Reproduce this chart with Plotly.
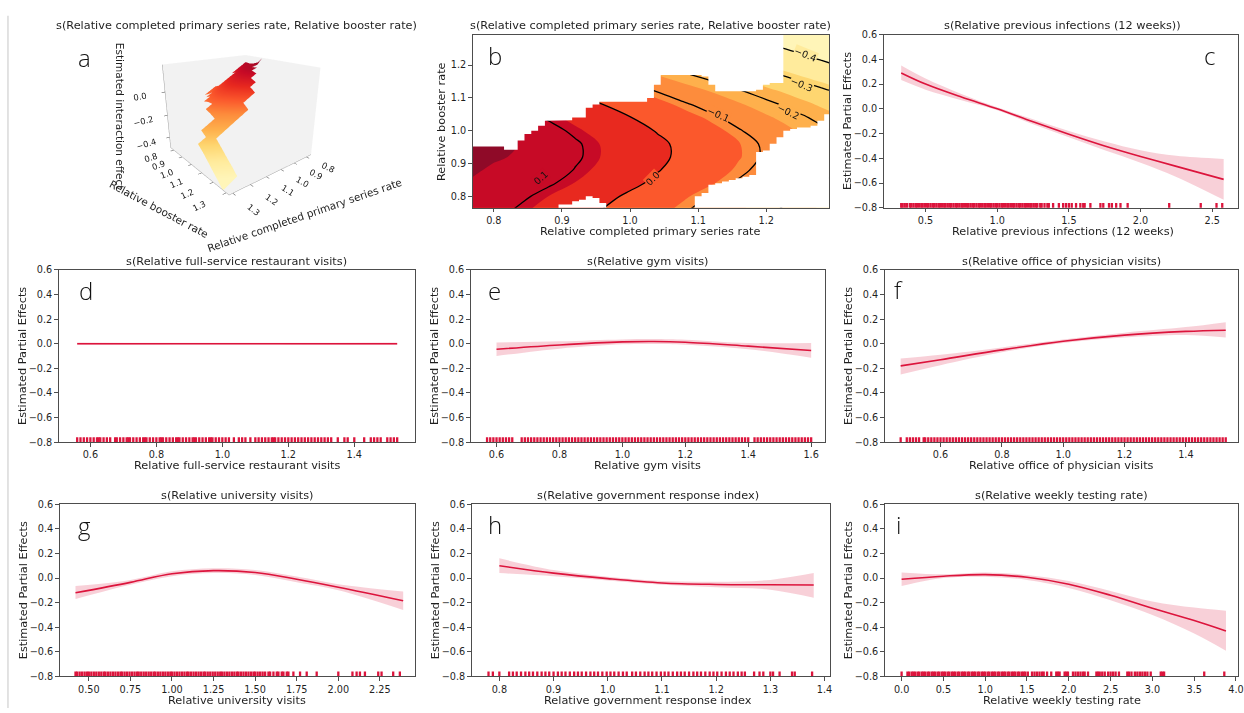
import numpy as np
import plotly.graph_objects as go

W, H = 1244, 713
FONT = "DejaVu Sans"
RED = "#dc143c"
BAND = "rgba(220,20,60,0.2)"
TXT = "#1f1f1f"
AX = "#4d4d4d"

def PX(x):
    return x / W

def PY(y):
    return 1 - y / H

# ---------------- panel a / b : tensor smooth (estimated) ----------------
grid_primary = [0.76, 0.80, 0.84, 0.88, 0.92, 0.96, 1.00, 1.04, 1.08, 1.12, 1.16, 1.20, 1.24, 1.28, 1.32]
grid_booster = [0.76, 0.80, 0.84, 0.88, 0.92, 0.96, 1.00, 1.04, 1.08, 1.12, 1.16, 1.20, 1.24, 1.28, 1.32]
interaction_z = [
    [0.153, 0.122, 0.091, 0.060, 0.030, -0.001, -0.032, -0.063, -0.094, -0.124, -0.155, -0.186, -0.217, -0.248, -0.278],
    [0.148, 0.142, 0.111, 0.080, 0.050, 0.019, -0.012, -0.043, -0.074, -0.104, -0.135, -0.166, -0.197, -0.228, -0.258],
    [0.157, 0.140, 0.139, 0.108, 0.078, 0.047, 0.016, -0.015, -0.046, -0.076, -0.107, -0.138, -0.169, -0.200, -0.230],
    [0.175, 0.150, 0.145, 0.127, 0.097, 0.066, 0.035, 0.004, -0.027, -0.057, -0.088, -0.119, -0.150, -0.181, -0.211],
    [0.231, 0.168, 0.152, 0.138, 0.108, 0.077, 0.046, 0.015, -0.016, -0.046, -0.077, -0.108, -0.139, -0.170, -0.200],
    [0.230, 0.199, 0.155, 0.137, 0.107, 0.076, 0.045, 0.014, -0.017, -0.047, -0.078, -0.109, -0.140, -0.171, -0.201],
    [0.212, 0.181, 0.150, 0.119, 0.089, 0.058, 0.027, -0.004, -0.035, -0.065, -0.096, -0.127, -0.158, -0.189, -0.219],
    [0.187, 0.156, 0.125, 0.094, 0.064, 0.033, 0.002, -0.029, -0.060, -0.090, -0.121, -0.152, -0.183, -0.214, -0.244],
    [0.154, 0.123, 0.092, 0.061, 0.031, 0.000, -0.031, -0.062, -0.093, -0.123, -0.154, -0.185, -0.216, -0.247, -0.277],
    [0.114, 0.083, 0.052, 0.021, -0.009, -0.040, -0.071, -0.102, -0.133, -0.163, -0.194, -0.225, -0.256, -0.287, -0.317],
    [0.067, 0.036, 0.005, -0.026, -0.056, -0.087, -0.118, -0.149, -0.180, -0.210, -0.241, -0.272, -0.303, -0.334, -0.364],
    [0.018, -0.013, -0.044, -0.075, -0.105, -0.136, -0.167, -0.198, -0.229, -0.259, -0.290, -0.321, -0.352, -0.383, -0.413],
    [-0.028, -0.059, -0.090, -0.121, -0.151, -0.182, -0.213, -0.244, -0.275, -0.305, -0.336, -0.367, -0.398, -0.429, -0.459],
    [-0.080, -0.111, -0.142, -0.173, -0.203, -0.234, -0.265, -0.296, -0.327, -0.357, -0.388, -0.419, -0.450, -0.481, -0.511],
    [-0.142, -0.173, -0.204, -0.235, -0.265, -0.296, -0.327, -0.358, -0.389, -0.419, -0.450, -0.481, -0.512, -0.543, -0.573],
]
# observed-data region: per primary-rate column (0.77 .. 1.29 step 0.01), booster range
mask_lo = [0.76, 0.76, 0.76, 0.76, 0.76, 0.76, 0.76, 0.76, 0.76, 0.76, 0.76, 0.76, 0.76,
           0.775, 0.775, 0.785, 0.79, 0.80, 0.795, 0.78, 0.76, 0.76, 0.76, 0.76, 0.76, 0.76,
           0.76, 0.76, 0.76, 0.76, 0.76, 0.76, 0.76, 0.80, 0.81, 0.835, 0.84, 0.845, 0.85,
           0.855, 0.86, 0.865, 0.935, 0.94, 0.96, 0.98, 1.00, 1.005, 1.01, 1.01, 1.015, 1.03, 1.05]
mask_hi = [0.952, 0.952, 0.952, 0.952, 0.952, 0.942, 0.942, 0.97, 0.99, 1.00, 1.015, 1.03, 1.032,
           1.032, 1.032, 1.04, 1.04, 1.07, 1.08, 1.088, 1.088, 1.088, 1.088, 1.088, 1.088, 1.088,
           1.10, 1.14, 1.17, 1.17, 1.17, 1.17, 1.17, 1.17, 1.165, 1.14, 1.12, 1.12, 1.12,
           1.12, 1.12, 1.12, 1.125, 1.14, 1.145, 1.145, 1.30, 1.30, 1.30, 1.30, 1.30, 1.30, 1.30]
mask_cols = np.round(0.77 + 0.01 * np.arange(len(mask_lo)), 2)

fill_levels_colors = ['#fff5b8', '#ffeb9c', '#fed670', '#feb04c', '#fd8c3c',
                      '#fb582c', '#e8291f', '#c70a26', '#8f0a28']
# contour labels: text, primary, booster, angle, background band colour
contour_labels = [('0.1', 0.869, 0.858, -42, '#c70a26'),
                  ('0.0', 1.033, 0.855, -45, '#fb582c'),
                  ('\u22120.1', 1.130, 1.050, 24, '#fd8c3c'),
                  ('\u22120.2', 1.232, 1.060, 26, '#feb04c'),
                  ('\u22120.3', 1.252, 1.140, 22, '#fed670'),
                  ('\u22120.4', 1.258, 1.232, 22, '#ffeb9c')]

# ---------------- smooth terms ----------------
c_x = [0.33, 0.5, 0.75, 1.0, 1.25, 1.5, 1.75, 2.0, 2.25, 2.58]
c_y = [0.29, 0.20, 0.095, 0.0, -0.105, -0.205, -0.30, -0.385, -0.465, -0.57]
c_up = [0.35, 0.245, 0.12, 0.012, -0.085, -0.18, -0.265, -0.335, -0.38, -0.405]
c_lo = [0.232, 0.155, 0.07, -0.012, -0.125, -0.23, -0.335, -0.435, -0.55, -0.735]
c_rug = [0.33, 0.34, 0.355, 0.37, 0.39, 0.40, 0.415, 0.43, 0.44, 0.455, 0.47, 0.48, 0.495, 0.51,
         0.52, 0.535, 0.55, 0.56, 0.575, 0.59, 0.60, 0.615, 0.63, 0.64, 0.655, 0.67, 0.68, 0.695,
         0.71, 0.72, 0.735, 0.75, 0.76, 0.775, 0.79, 0.80, 0.815, 0.83, 0.84, 0.855, 0.87, 0.88,
         0.895, 0.91, 0.92, 0.935, 0.95, 0.96, 0.975, 0.99, 1.00, 1.015, 1.03, 1.04, 1.055, 1.07,
         1.08, 1.095, 1.11, 1.12, 1.135, 1.15, 1.16, 1.175, 1.19, 1.20, 1.215, 1.23, 1.24, 1.255,
         1.27, 1.28, 1.30, 1.31, 1.33, 1.35, 1.36, 1.39, 1.43, 1.46, 1.48, 1.50, 1.52, 1.55, 1.58,
         1.60, 1.61, 1.65, 1.72, 1.74, 1.78, 1.80, 1.83, 1.86, 1.91, 2.20, 2.42, 2.53, 2.57]

d_x = [0.56, 0.8, 1.0, 1.2, 1.53]
d_y = [0.0, 0.0, 0.0, 0.0, 0.0]
d_up = [0.01, 0.008, 0.007, 0.008, 0.01]
d_lo = [-0.01, -0.008, -0.007, -0.008, -0.01]
d_rug = [0.56, 0.57, 0.58, 0.59, 0.60, 0.61, 0.62, 0.625, 0.63, 0.64, 0.65, 0.66, 0.675, 0.68,
         0.69, 0.70, 0.71, 0.715, 0.72, 0.73, 0.74, 0.75, 0.76, 0.765, 0.77, 0.78, 0.79, 0.80,
         0.81, 0.815, 0.82, 0.83, 0.84, 0.85, 0.86, 0.865, 0.87, 0.88, 0.89, 0.90, 0.91, 0.915,
         0.92, 0.93, 0.94, 0.95, 0.96, 0.965, 0.97, 0.98, 0.99, 1.00, 1.01, 1.02, 1.035, 1.05,
         1.06, 1.07, 1.085, 1.10, 1.11, 1.12, 1.13, 1.14, 1.15, 1.155, 1.16, 1.17, 1.18, 1.19,
         1.20, 1.21, 1.22, 1.23, 1.24, 1.25, 1.26, 1.27, 1.28, 1.29, 1.30, 1.31, 1.32, 1.33,
         1.35, 1.37, 1.38, 1.40, 1.43, 1.45, 1.46, 1.47, 1.48, 1.50, 1.51, 1.52, 1.53]

e_x = [0.6, 0.8, 1.0, 1.1, 1.2, 1.4, 1.6]
e_y = [-0.045, -0.01, 0.015, 0.018, 0.012, -0.02, -0.055]
e_up = [0.01, 0.02, 0.035, 0.038, 0.032, 0.005, 0.005]
e_lo = [-0.10, -0.04, -0.005, -0.002, -0.008, -0.045, -0.115]
e_rug = [0.57, 0.58, 0.59, 0.60, 0.61, 0.62, 0.63, 0.64, 0.65, 0.68, 0.69, 0.70, 0.71, 0.72,
         0.73, 0.74, 0.75, 0.76, 0.77, 0.78, 0.79, 0.80, 0.81, 0.82, 0.83, 0.84, 0.85, 0.86,
         0.87, 0.88, 0.89, 0.90, 0.91, 0.92, 0.93, 0.94, 0.95, 0.96, 0.97, 0.98, 0.99, 1.00,
         1.01, 1.02, 1.03, 1.04, 1.05, 1.06, 1.07, 1.08, 1.09, 1.10, 1.11, 1.12, 1.13, 1.14,
         1.15, 1.16, 1.17, 1.18, 1.19, 1.20, 1.21, 1.22, 1.23, 1.24, 1.25, 1.26, 1.27, 1.28,
         1.29, 1.30, 1.31, 1.32, 1.33, 1.34, 1.35, 1.36, 1.37, 1.38, 1.39, 1.40, 1.42, 1.43,
         1.44, 1.45, 1.46, 1.47, 1.48, 1.49, 1.50, 1.51, 1.52, 1.53, 1.54, 1.55, 1.56, 1.57,
         1.58, 1.59, 1.60]

f_x = [0.47, 0.6, 0.8, 1.0, 1.2, 1.4, 1.53]
f_y = [-0.18, -0.13, -0.05, 0.02, 0.07, 0.10, 0.11]
f_up = [-0.12, -0.09, -0.03, 0.035, 0.09, 0.135, 0.175]
f_lo = [-0.25, -0.175, -0.07, 0.005, 0.05, 0.07, 0.05]
f_rug = [0.47, 0.49, 0.50, 0.51, 0.52, 0.53, 0.545, 0.55, 0.56, 0.57, 0.58, 0.59, 0.60, 0.61,
         0.62, 0.63, 0.64, 0.65, 0.66, 0.67, 0.68, 0.69, 0.70, 0.71, 0.72, 0.73, 0.74, 0.75,
         0.76, 0.77, 0.78, 0.79, 0.80, 0.81, 0.82, 0.83, 0.84, 0.85, 0.86, 0.87, 0.88, 0.89,
         0.90, 0.91, 0.92, 0.93, 0.94, 0.95, 0.96, 0.97, 0.98, 0.99, 1.00, 1.01, 1.02, 1.03,
         1.04, 1.05, 1.06, 1.07, 1.08, 1.09, 1.10, 1.11, 1.12, 1.13, 1.14, 1.15, 1.16, 1.17,
         1.18, 1.19, 1.20, 1.21, 1.22, 1.23, 1.24, 1.25, 1.26, 1.27, 1.28, 1.29, 1.30, 1.31,
         1.32, 1.33, 1.34, 1.35, 1.36, 1.37, 1.38, 1.39, 1.40, 1.41, 1.42, 1.43, 1.44, 1.45,
         1.46, 1.47, 1.48, 1.49, 1.50, 1.51, 1.52, 1.53]

g_x = [0.42, 0.75, 1.0, 1.25, 1.5, 1.75, 2.0, 2.39]
g_y = [-0.12, -0.035, 0.035, 0.06, 0.045, -0.01, -0.075, -0.185]
g_up = [-0.065, -0.015, 0.055, 0.08, 0.065, 0.012, -0.05, -0.11]
g_lo = [-0.17, -0.055, 0.015, 0.04, 0.025, -0.035, -0.10, -0.26]
g_rug = [0.42, 0.43, 0.445, 0.46, 0.475, 0.49, 0.50, 0.515, 0.53, 0.545, 0.56, 0.575, 0.59, 0.60,
         0.615, 0.63, 0.645, 0.66, 0.675, 0.69, 0.70, 0.715, 0.73, 0.745, 0.76, 0.775, 0.79, 0.80,
         0.815, 0.83, 0.845, 0.86, 0.875, 0.89, 0.90, 0.915, 0.93, 0.945, 0.96, 0.975, 0.99, 1.00,
         1.015, 1.03, 1.045, 1.06, 1.075, 1.09, 1.10, 1.115, 1.13, 1.145, 1.16, 1.175, 1.19, 1.20,
         1.215, 1.23, 1.245, 1.26, 1.275, 1.29, 1.30, 1.315, 1.33, 1.345, 1.36, 1.375, 1.39, 1.40,
         1.415, 1.43, 1.445, 1.46, 1.475, 1.49, 1.50, 1.515, 1.53, 1.545, 1.56, 1.58, 1.59, 1.61,
         1.63, 1.64, 1.66, 1.67, 1.69, 1.70, 1.73, 1.77, 1.81, 1.87, 2.00, 2.085, 2.11, 2.13,
         2.16, 2.24, 2.26, 2.33, 2.37]

h_x = [0.8, 0.9, 1.0, 1.1, 1.2, 1.3, 1.38]
h_y = [0.10, 0.04, -0.005, -0.04, -0.052, -0.055, -0.057]
h_up = [0.16, 0.065, 0.01, -0.025, -0.03, -0.015, 0.04]
h_lo = [0.04, 0.015, -0.02, -0.055, -0.075, -0.095, -0.16]
h_rug = [0.78, 0.788, 0.80, 0.818, 0.825, 0.832, 0.84, 0.848, 0.855, 0.862, 0.87, 0.878, 0.885,
         0.892, 0.90, 0.908, 0.915, 0.922, 0.93, 0.938, 0.945, 0.952, 0.96, 0.968, 0.975, 0.982,
         0.99, 0.998, 1.005, 1.012, 1.02, 1.028, 1.035, 1.045, 1.052, 1.06, 1.068, 1.075, 1.082,
         1.09, 1.098, 1.105, 1.112, 1.12, 1.128, 1.135, 1.142, 1.15, 1.158, 1.165, 1.172, 1.18,
         1.188, 1.195, 1.202, 1.21, 1.218, 1.225, 1.232, 1.24, 1.247, 1.253, 1.27, 1.28, 1.287,
         1.30, 1.305, 1.317, 1.34, 1.345, 1.377]

i_x = [0.0, 0.5, 1.0, 1.5, 2.0, 2.5, 3.0, 3.5, 3.88]
i_y = [-0.01, 0.015, 0.028, 0.006, -0.05, -0.14, -0.245, -0.345, -0.43]
i_up = [0.045, 0.03, 0.045, 0.025, -0.025, -0.105, -0.19, -0.24, -0.265]
i_lo = [-0.065, 0.0, 0.01, -0.015, -0.08, -0.18, -0.30, -0.45, -0.59]
i_rug = [0.0, 0.07, 0.09, 0.12, 0.14, 0.16, 0.19, 0.21, 0.24, 0.26, 0.28, 0.31, 0.33, 0.36, 0.38,
         0.40, 0.43, 0.45, 0.48, 0.50, 0.52, 0.55, 0.57, 0.60, 0.62, 0.64, 0.67, 0.69, 0.72, 0.74,
         0.76, 0.79, 0.81, 0.84, 0.86, 0.88, 0.91, 0.93, 0.96, 0.98, 1.00, 1.03, 1.05, 1.08, 1.10,
         1.12, 1.15, 1.17, 1.20, 1.22, 1.24, 1.27, 1.29, 1.32, 1.34, 1.36, 1.39, 1.41, 1.44, 1.46,
         1.48, 1.51, 1.56, 1.59, 1.62, 1.65, 1.68, 1.70, 1.74, 1.79, 1.85, 1.87, 1.89, 1.95, 1.97,
         1.99, 2.05, 2.08, 2.11, 2.14, 2.17, 2.19, 2.23, 2.33, 2.35, 2.37, 2.40, 2.43, 2.47, 2.50,
         2.53, 2.56, 2.60, 2.70, 2.72, 2.75, 2.79, 2.82, 2.85, 2.88, 2.91, 2.94, 2.98, 3.10, 3.12,
         3.14, 3.62, 3.86]

panels = [
    dict(key='c', ax='2', xpx=(888, 1244), ypx=(29, 205), xr=[0.208, 2.68],
         xt=[0.5, 1.0, 1.5, 2.0, 2.5], fmt='.1f', data=(c_x, c_y, c_up, c_lo, c_rug),
         title='s(Relative previous infections (12 weeks))',
         xlabel='Relative previous infections (12 weeks)', tx=1068, lx=1215, ly=50),
    dict(key='d', ax='3', xpx=(59, 417), ypx=(268, 443), xr=[0.504, 1.584],
         xt=[0.6, 0.8, 1.0, 1.2, 1.4], fmt='.1f', data=(d_x, d_y, d_up, d_lo, d_rug),
         title='s(Relative full-service restaurant visits)',
         xlabel='Relative full-service restaurant visits', tx=238, lx=86, ly=289),
    dict(key='e', ax='4', xpx=(473, 829), ypx=(268, 443), xr=[0.518, 1.644],
         xt=[0.6, 0.8, 1.0, 1.2, 1.4, 1.6], fmt='.1f', data=(e_x, e_y, e_up, e_lo, e_rug),
         title='s(Relative gym visits)', xlabel='Relative gym visits', tx=651, lx=497, ly=289),
    dict(key='f', ax='5', xpx=(889, 1244), ypx=(268, 443), xr=[0.418, 1.57],
         xt=[0.6, 0.8, 1.0, 1.2, 1.4], fmt='.1f', data=(f_x, f_y, f_up, f_lo, f_rug),
         title='s(Relative office of physician visits)',
         xlabel='Relative office of physician visits', tx=1067, lx=903, ly=288),
    dict(key='g', ax='6', xpx=(60, 417), ypx=(506, 681), xr=[0.325, 2.461],
         xt=[0.5, 0.75, 1.0, 1.25, 1.5, 1.75, 2.0, 2.25], fmt='.2f', data=(g_x, g_y, g_up, g_lo, g_rug),
         title='s(Relative university visits)', xlabel='Relative university visits',
         tx=238, lx=85, ly=528),
    dict(key='h', ax='7', xpx=(474, 834), ypx=(506, 681), xr=[0.749, 1.41],
         xt=[0.8, 0.9, 1.0, 1.1, 1.2, 1.3, 1.4], fmt='.1f', data=(h_x, h_y, h_up, h_lo, h_rug),
         title='s(Relative government response index)',
         xlabel='Relative government response index', tx=651, lx=497, ly=527),
    dict(key='i', ax='8', xpx=(889, 1244), ypx=(506, 681), xr=[-0.202, 4.024],
         xt=[0.0, 0.5, 1.0, 1.5, 2.0, 2.5, 3.0, 3.5, 4.0], fmt='.1f', data=(i_x, i_y, i_up, i_lo, i_rug),
         title='s(Relative weekly testing rate)', xlabel='Relative weekly testing rate',
         tx=1067, lx=903, ly=527),
]

fig = go.Figure()
layout_axes = {}
annotations = []

axis_common = dict(showline=True, mirror=True, linecolor=AX, linewidth=1, ticks='outside',
                   ticklen=3.5, tickwidth=1, tickcolor=AX, showgrid=False, zeroline=False,
                   ticklabeloverflow='allow',
                   tickfont=dict(family=FONT, size=9.7, color=TXT))

def ann(text, x, y, size=11.3, angle=0, family=FONT, color=TXT, weight=None):
    f = dict(family=family, size=size, color=color)
    if weight:
        f['weight'] = weight
    annotations.append(dict(text=text, x=PX(x), y=PY(y), xref='paper', yref='paper',
                            showarrow=False, textangle=angle, font=f,
                            xanchor='center', yanchor='middle'))

for p in panels:
    xs, ys, up, lo, rug = p['data']
    xa, ya = 'x' + p['ax'], 'y' + p['ax']
    fig.add_trace(go.Scatter(x=xs, y=lo, mode='lines', line=dict(width=0, shape='spline'),
                             xaxis=xa, yaxis=ya, showlegend=False, hoverinfo='skip'))
    fig.add_trace(go.Scatter(x=xs, y=up, mode='lines', line=dict(width=0, shape='spline'),
                             fill='tonexty', fillcolor=BAND,
                             xaxis=xa, yaxis=ya, showlegend=False, hoverinfo='skip'))
    fig.add_trace(go.Scatter(x=xs, y=ys, mode='lines', line=dict(color=RED, width=1.6, shape='spline'),
                             xaxis=xa, yaxis=ya, showlegend=False))
    fig.add_trace(go.Scatter(x=rug, y=[-0.786] * len(rug), mode='markers',
                             marker=dict(symbol='line-ns', size=4.5,
                                         line=dict(color=RED, width=2.3)),
                             xaxis=xa, yaxis=ya, showlegend=False))
    x0, x1 = p['xpx']
    yt, yb = p['ypx']
    layout_axes['xaxis' + p['ax']] = dict(axis_common, domain=[PX(x0), PX(x1)], range=p['xr'],
                                         tickvals=p['xt'], tickformat=p['fmt'], anchor=ya)
    layout_axes['yaxis' + p['ax']] = dict(axis_common, domain=[PY(yb), PY(yt)], range=[-0.8, 0.6],
                                         tickvals=[-0.8, -0.6, -0.4, -0.2, 0.0, 0.2, 0.4, 0.6],
                                         tickformat='.1f', anchor=xa)
    ann(p['title'], p['tx'], yt - 9)
    ann(p['xlabel'], p['tx'], yb + 24)
    ann('Estimated Partial Effects', x0 - 37, (yt + yb) / 2, angle=-90)
    ann(p['key'], p['lx'], p['ly'], size=24, family='Open Sans', color='#111', weight=300)

# ---- panel b: contour ----
fill_scale = [[k / 8, c] for k, c in enumerate(fill_levels_colors)]
fig.add_trace(go.Contour(x=grid_primary, y=grid_booster, z=interaction_z, xaxis='x', yaxis='y',
                         autocontour=False,
                         contours=dict(start=-0.40, end=0.16, size=0.08, coloring='fill',
                                       showlines=False),
                         colorscale=fill_scale, showscale=False,
                         line=dict(width=0, smoothing=1.0), hoverinfo='skip'))
fig.add_trace(go.Contour(x=grid_primary, y=grid_booster, z=interaction_z, xaxis='x', yaxis='y',
                         autocontour=False,
                         contours=dict(start=-0.4, end=0.1, size=0.1, coloring='none',
                                       showlabels=False),
                         line=dict(color='black', width=1.3, smoothing=1.0),
                         showscale=False, hoverinfo='skip'))
top_x, top_y, bot_x, bot_y = [0.74], [1.35], [0.74], [0.70]
for xc, l, h in zip(mask_cols, mask_lo, mask_hi):
    top_x += [xc - 0.005, xc + 0.005]
    top_y += [h, h]
    bot_x += [xc - 0.005, xc + 0.005]
    bot_y += [l, l]
top_x += [1.32, 1.32]
top_y += [top_y[-1], 1.35]
bot_x += [1.32, 1.32]
bot_y += [bot_y[-1], 0.70]
for mx, my in ((top_x, top_y), (bot_x, bot_y)):
    fig.add_trace(go.Scatter(x=mx, y=my, mode='lines', fill='toself', fillcolor='white',
                             line=dict(width=0, color='white'), xaxis='x', yaxis='y',
                             showlegend=False, hoverinfo='skip'))
for txt, lx, ly, ang, bg in contour_labels:
    annotations.append(dict(text=txt, x=lx, y=ly, xref='x', yref='y', showarrow=False,
                            textangle=ang, bgcolor=bg, borderpad=0,
                            font=dict(family=FONT, size=9.5, color='#111')))

layout_axes['xaxis'] = dict(axis_common, domain=[PX(475), PX(833)], range=[0.769, 1.292],
                            tickvals=[0.8, 0.9, 1.0, 1.1, 1.2], tickformat='.1f', anchor='y')
layout_axes['yaxis'] = dict(axis_common, domain=[PY(205), PY(29)], range=[0.765, 1.293],
                            tickvals=[0.8, 0.9, 1.0, 1.1, 1.2], tickformat='.1f', anchor='x')
ann('s(Relative completed primary series rate, Relative booster rate)', 654, 20)
ann('Relative completed primary series rate', 654, 229)
ann('Relative booster rate', 443, 117, angle=-90)
ann('b', 497, 50, size=24, family='Open Sans', color='#111', weight=300)

# ---- panel a: 3D surface ----
z_surf = []
for j, yb_ in enumerate(grid_booster):
    row = []
    for i, xp_ in enumerate(grid_primary):
        k = int(np.clip(round((xp_ - 0.77) / 0.01), 0, len(mask_lo) - 1))
        ok = mask_lo[k] - 1e-9 <= yb_ <= mask_hi[k] + 1e-9
        row.append(interaction_z[j][i] if ok else None)
    z_surf.append(row)

fig.add_trace(go.Surface(x=grid_primary, y=grid_booster, z=z_surf, colorscale=fill_scale,
                         cmin=-0.45, cmax=0.2, showscale=False, scene='scene',
                         lighting=dict(ambient=1, diffuse=0, specular=0, roughness=1, fresnel=0),
                         hoverinfo='skip'))
ax3 = dict(showbackground=True, backgroundcolor='rgb(242,242,242)', showgrid=False,
           showline=True, linecolor='#a0a0a0', zeroline=False, ticks='outside', ticklen=3,
           tickfont=dict(family=FONT, size=10, color=TXT), showspikes=False,
           title=dict(text=''))
ann('s(Relative completed primary series rate, Relative booster rate)', 238, 20)
ann('a', 85, 52, size=24, family='Open Sans', color='#111', weight=300)
ann('Estimated interaction effect', 120, 112, size=10.5, angle=90)
ann('Relative booster rate', 160, 206, size=10.5, angle=28)
ann('Relative completed primary series rate', 306, 212, size=10.5, angle=-19)

layout_axes['scene'] = dict(
    domain=dict(x=[PX(50), PX(430)], y=[PY(225), 1.0]),
    xaxis=dict(ax3, range=[0.76, 1.32], tickvals=[0.8, 0.9, 1.0, 1.1, 1.2, 1.3], tickformat='.1f'),
    yaxis=dict(ax3, range=[0.76, 1.32], tickvals=[0.8, 0.9, 1.0, 1.1, 1.2, 1.3], tickformat='.1f'),
    zaxis=dict(ax3, range=[-0.5, 0.22], tickvals=[-0.4, -0.2, 0.0], tickformat='.1f'),
    aspectmode='manual', aspectratio=dict(x=1, y=1, z=0.85),
    camera=dict(eye=dict(x=1.5, y=1.86, z=0.85), center=dict(x=0, y=0, z=-0.06)),
)

fig.update_layout(
    width=W, height=H, margin=dict(l=0, r=0, t=0, b=0),
    paper_bgcolor='white', plot_bgcolor='white',
    font=dict(family=FONT, color=TXT),
    annotations=annotations, showlegend=False,
    shapes=[dict(type='line', xref='paper', yref='paper', x0=PX(8), x1=PX(8), y0=0, y1=PY(10),
                 line=dict(color='#d9d9d9', width=1.5))],
    **layout_axes,
)

fig.write_html("out.html", config={'displayModeBar': False},
               post_script="document.body.style.margin='0px';document.body.style.overflow='hidden';")
